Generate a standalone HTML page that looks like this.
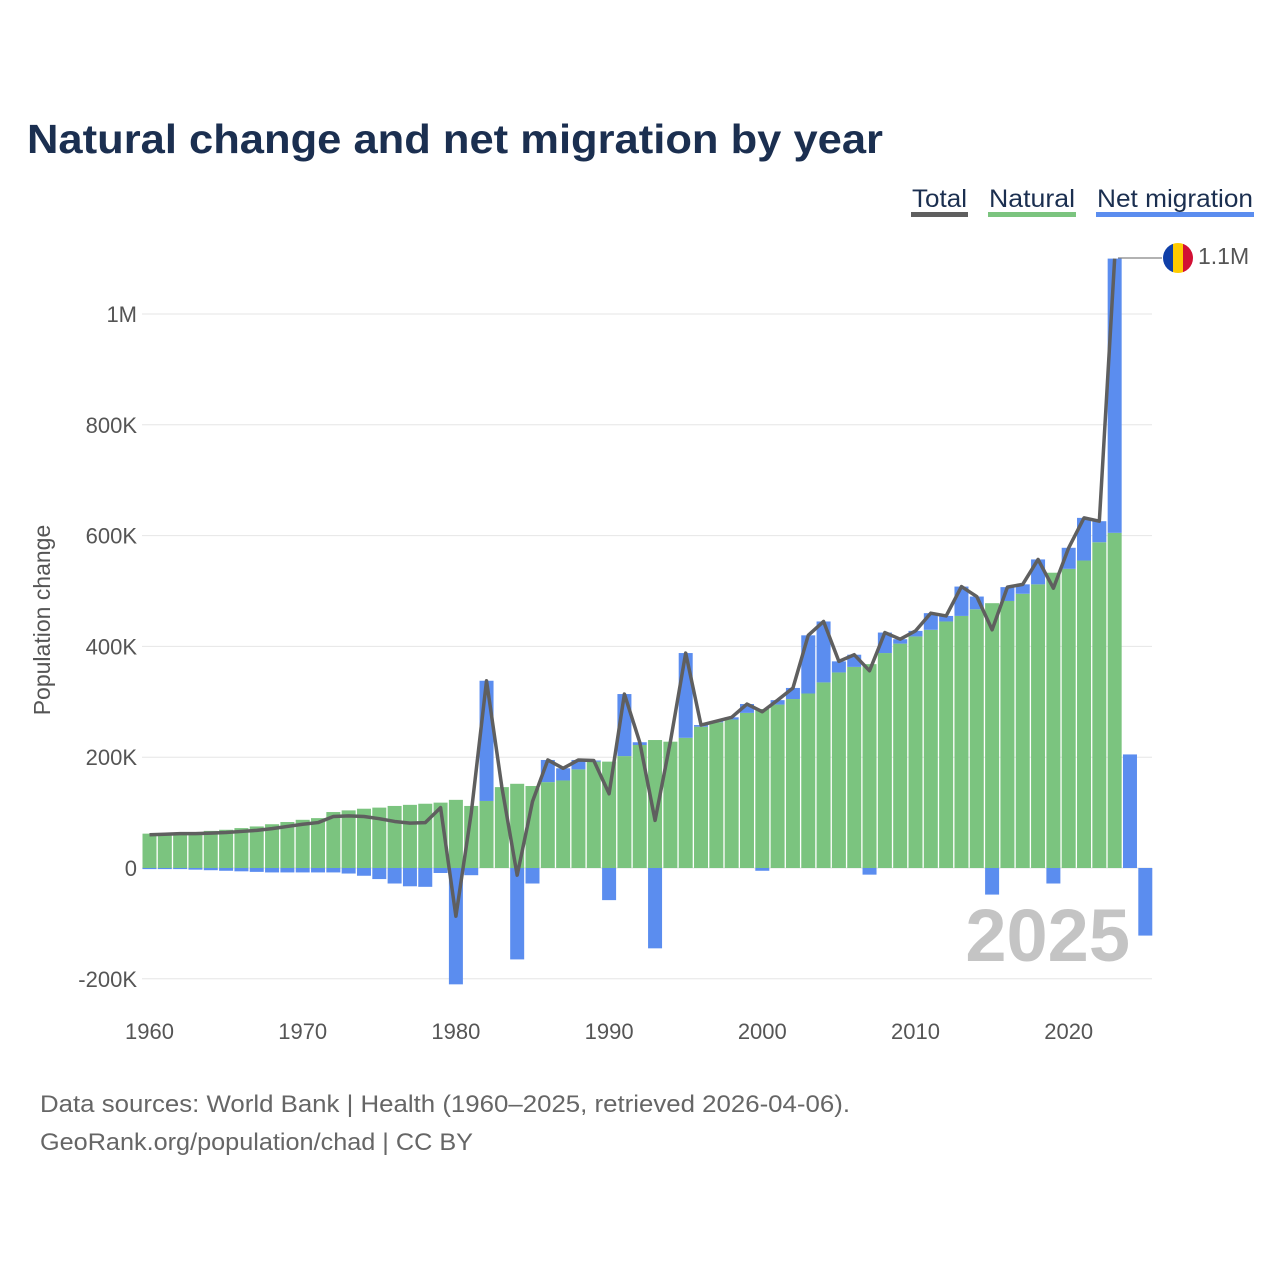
<!DOCTYPE html>
<html><head><meta charset="utf-8"><style>
body{margin:0;background:#fff;font-family:"Liberation Sans",sans-serif;}
svg text{font-family:"Liberation Sans",sans-serif;}
</style></head><body>
<svg width="1280" height="1280" viewBox="0 0 1280 1280">
<text x="27" y="153" font-size="41" font-weight="bold" fill="#1b2f50" textLength="856" lengthAdjust="spacingAndGlyphs">Natural change and net migration by year</text>
<g>
<text x="912" y="207" font-size="25" fill="#1b2f50" textLength="55" lengthAdjust="spacingAndGlyphs">Total</text>
<rect x="911" y="212" width="57" height="5" fill="#5f5f5f"/>
<text x="989" y="207" font-size="25" fill="#1b2f50" textLength="86" lengthAdjust="spacingAndGlyphs">Natural</text>
<rect x="988" y="212" width="88" height="5" fill="#7bc47f"/>
<text x="1097" y="207" font-size="25" fill="#1b2f50" textLength="156" lengthAdjust="spacingAndGlyphs">Net migration</text>
<rect x="1096" y="212" width="158" height="5" fill="#5b8def"/>
</g>
<g id="grid"></g><g id="bars"></g><g id="line"></g><g id="axes"></g>
<text x="50" y="620" font-size="23" fill="#555" transform="rotate(-90 50 620)" text-anchor="middle">Population change</text>
<text x="1130" y="961" font-size="74" font-weight="bold" fill="#c4c4c4" text-anchor="end">2025</text>
<line x1="1118" y1="258" x2="1162" y2="258" stroke="#666" stroke-width="1"/>
<g>
<clipPath id="fc"><circle cx="1178" cy="258" r="15"/></clipPath>
<g clip-path="url(#fc)"><rect x="1163" y="243" width="10" height="30" fill="#0f3fa8"/><rect x="1173" y="243" width="10" height="30" fill="#fecb00"/><rect x="1183" y="243" width="10" height="30" fill="#d21034"/></g>
</g>
<text x="1198" y="264" font-size="23" fill="#555">1.1M</text>
<text x="40" y="1112" font-size="24" fill="#666" textLength="810" lengthAdjust="spacingAndGlyphs">Data sources: World Bank | Health (1960–2025, retrieved 2026-04-06).</text>
<text x="40" y="1150" font-size="24" fill="#666" textLength="433" lengthAdjust="spacingAndGlyphs">GeoRank.org/population/chad | CC BY</text>
</svg>
<script>
const years=[];for(let y=1960;y<=2025;y++)years.push(y);
const natural=[62,63,64,65,67,69,72,75,79,83,87,90,101,104,107,109,112,114,116,118,123,112,121,146,152,148,155,158,178,192,192,202,222,231,228,235,255,263,268,280,287,295,305,315,335,353,363,368,388,405,418,430,445,455,467,478,482,495,512,533,540,555,588,605,null,null];
const migration=[-2,-2,-2,-3,-4,-5,-6,-7,-8,-8,-8,-8,-8,-10,-14,-20,-28,-33,-34,-9,-210,-13,217,0,-165,-28,40,22,17,2,-58,112,5,-145,0,153,3,2,4,16,-5,8,20,105,110,20,22,-12,37,8,10,30,10,53,23,-48,25,17,45,-28,38,77,38,495,205,-122];
const yTicks=[-200,0,200,400,600,800,1000];
const yTickLabels=["-200K","0","200K","400K","600K","800K","1M"];
const xTicks=[1960,1970,1980,1990,2000,2010,2020];
const NS="http://www.w3.org/2000/svg";
const xs=y=>149.5+(y-1960)*15.32;
const ys=v=>868-v*0.554;
const bw=14;
function mk(t,a,p){const e=document.createElementNS(NS,t);for(const k in a)e.setAttribute(k,a[k]);document.getElementById(p).appendChild(e);return e;}
yTicks.forEach((t,i)=>{
 const l=mk('line',{x1:142,x2:1152,y1:ys(t),y2:ys(t),stroke:'#e6e6e6','stroke-width':1},'grid');
 
 
 const tx=mk('text',{x:137,y:ys(t)+8,'font-size':22,fill:'#555','text-anchor':'end'},'axes');tx.textContent=yTickLabels[i];
 
 
});
xTicks.forEach(t=>{
 const tx=mk('text',{x:xs(t),y:1039,'font-size':22,fill:'#555','text-anchor':'middle'},'axes');tx.textContent=t;
 
 
});
years.forEach((y,i)=>{
 const n=natural[i]||0,m=migration[i];
 const x=xs(y)-bw/2;
 if(n>0){const r=mk('rect',{x:x,y:ys(n),width:bw,height:ys(0)-ys(n),fill:'#7bc47f'},'bars');
  
  }
 let y0,y1;
 if(m>=0){y0=ys(n+m);y1=ys(n);}else{y0=ys(0);y1=ys(m);}
 if(m!==0){const r=mk('rect',{x:x,y:y0,width:bw,height:y1-y0,fill:'#5b8def'},'bars');
  
  }
});
let d='';years.forEach((y,i)=>{if(natural[i]===null)return;const v=natural[i]+migration[i];d+=(d?'L':'M')+xs(y)+','+ys(v);});
const p=mk('path',{d:d,fill:'none',stroke:'#5f5f5f','stroke-width':3.5,'stroke-linejoin':'round'},'line');


</script>
</body></html>
